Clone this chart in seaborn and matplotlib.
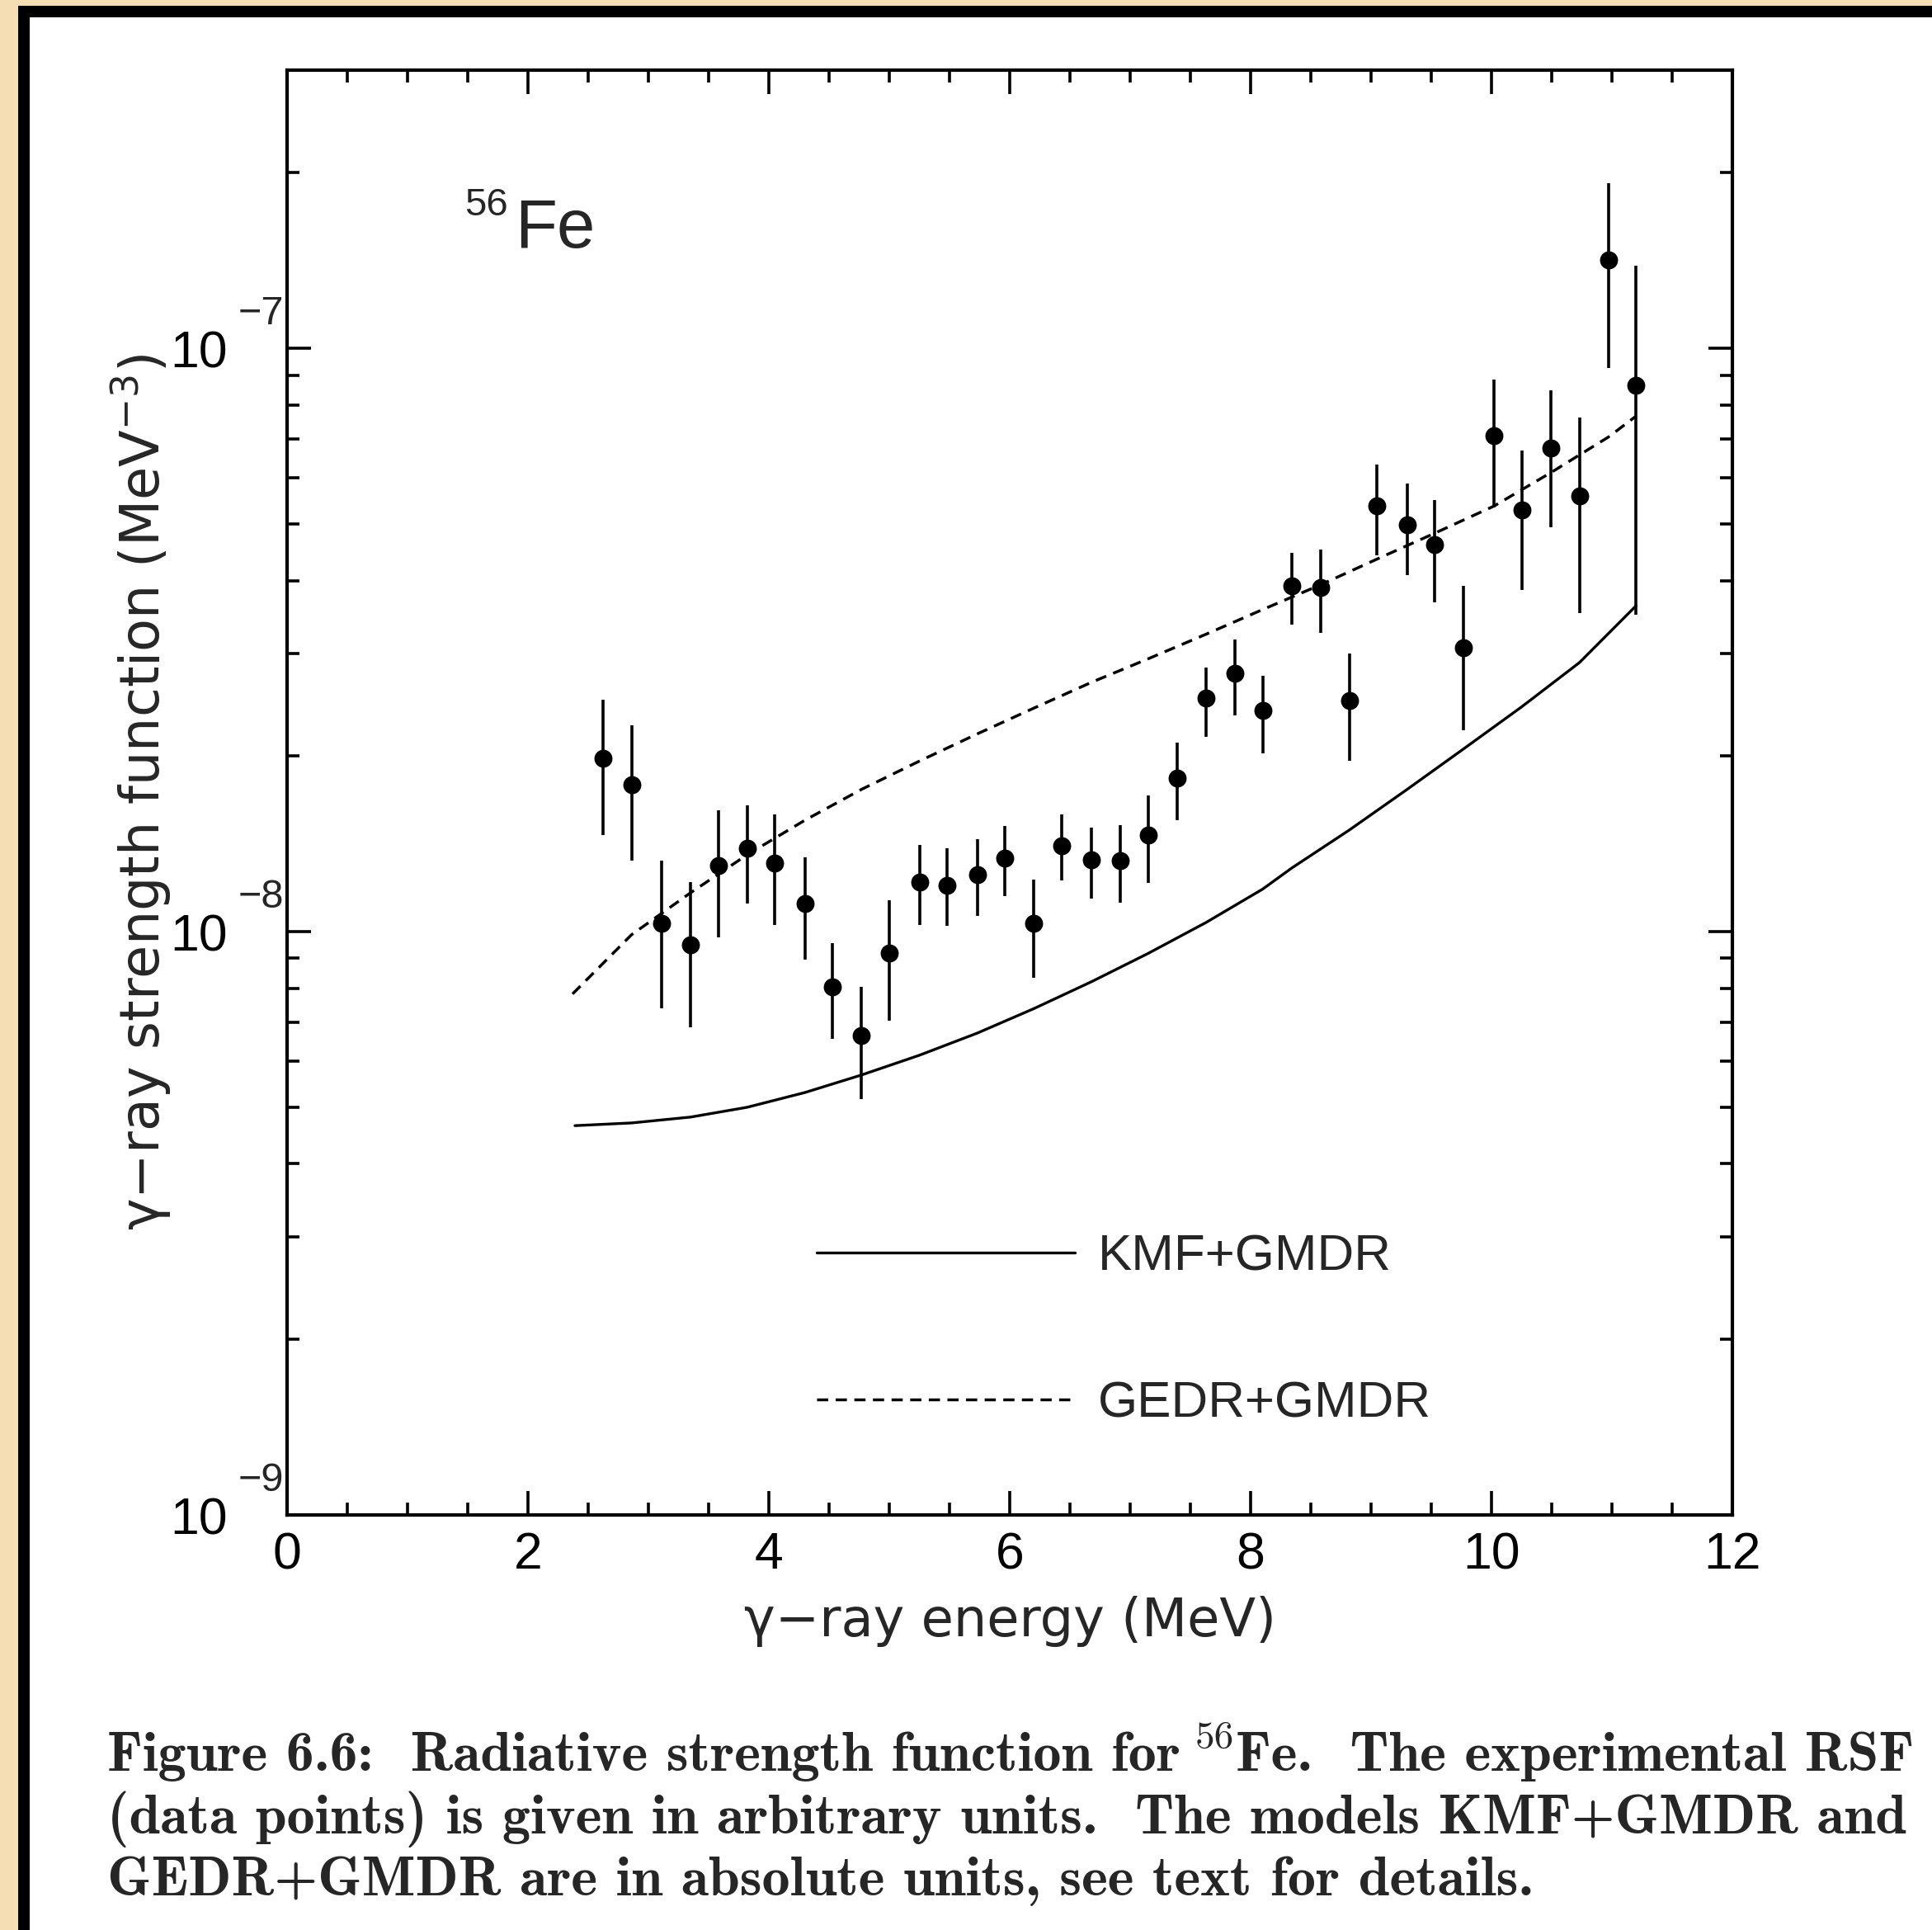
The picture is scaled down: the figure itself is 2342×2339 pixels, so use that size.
import numpy as np
import pandas as pd
import matplotlib
matplotlib.use("Agg")
import matplotlib.pyplot as plt
import seaborn as sns
from matplotlib.ticker import MultipleLocator, LogLocator, NullFormatter, FixedLocator, FixedFormatter
from matplotlib.patches import Rectangle

# ---------------- data ----------------
UNIT = 1e-9  # values below are in units of 1e-9 MeV^-3

energy = [2.62, 2.86, 3.11, 3.35, 3.58, 3.82, 4.05, 4.30, 4.53, 4.77,
          5.00, 5.25, 5.48, 5.73, 5.96, 6.20, 6.43, 6.68, 6.92, 7.15,
          7.39, 7.63, 7.87, 8.10, 8.34, 8.58, 8.82, 9.05, 9.30, 9.53,
          9.77, 10.02, 10.25, 10.49, 10.73, 10.97, 11.20]
rsf = [19.80, 17.88, 10.32, 9.50, 12.97, 13.89, 13.10, 11.16, 8.05, 6.63,
       9.18, 12.18, 12.00, 12.54, 13.36, 10.32, 14.02, 13.29, 13.23, 14.65,
       18.32, 25.13, 27.70, 23.94, 39.13, 38.94, 24.89, 53.66, 49.89, 46.15,
       30.68, 70.79, 52.89, 67.44, 55.80, 141.9, 86.44]
rsf_high = [25.01, 22.58, 13.23, 12.18, 16.15, 16.46, 15.91, 13.42, 9.55, 8.05,
            11.32, 14.09, 13.89, 14.43, 15.16, 12.30, 15.91, 15.08, 15.23, 17.12,
            21.10, 28.38, 31.73, 27.43, 44.62, 45.27, 29.94, 63.32, 58.57, 54.98,
            39.13, 88.57, 66.79, 84.78, 76.14, 191.9, 138.5]
rsf_low = [14.65, 13.23, 7.38, 6.86, 9.78, 11.16, 10.27, 8.96, 6.54, 5.17,
           7.03, 10.27, 10.22, 10.63, 11.49, 8.33, 12.24, 11.38, 11.21, 12.12,
           15.53, 21.61, 23.48, 20.20, 33.65, 32.52, 19.61, 44.19, 40.87, 36.73,
           22.14, 53.41, 38.55, 49.41, 35.15, 92.5, 34.98]

kmf_energy = [2.39, 2.86, 3.35, 3.82, 4.30, 4.77, 5.25, 5.73, 6.20, 6.68,
              7.15, 7.63, 8.10, 8.34, 8.82, 9.30, 9.77, 10.25, 10.73, 11.20]
kmf_rsf = [4.65, 4.70, 4.81, 5.00, 5.30, 5.68, 6.14, 6.70, 7.38, 8.21,
           9.18, 10.37, 11.83, 12.85, 14.94, 17.54, 20.59, 24.29, 28.93, 36.20]

gedr_energy = [2.37, 2.86, 3.35, 3.82, 4.30, 4.77, 5.25, 5.73, 6.20, 6.68,
               7.15, 7.63, 8.10, 8.58, 9.05, 9.53, 10.02, 10.49, 10.97, 11.20]
gedr_rsf = [7.82, 9.88, 11.66, 13.55, 15.53, 17.54, 19.61, 21.83, 24.17, 26.77,
            29.37, 32.36, 35.67, 39.32, 43.54, 48.23, 53.66, 61.19, 70.46, 76.53]

x_ticks = [0, 2, 4, 6, 8, 10, 12]
y_ticks = [1e-9, 1e-8, 1e-7]
y_tick_base = ["10", "10", "10"]
y_tick_exp = ["−9", "−8", "−7"]
series_labels = ["KMF+GMDR", "GEDR+GMDR"]

caption_1a = "Figure 6.6:  Radiative strength function for"
caption_1b = "56"
caption_1c = "Fe.  The experimental RSF"
caption_2 = "(data points) is given in arbitrary units.  The models KMF+GMDR and"
caption_3 = "GEDR+GMDR are in absolute units, see text for details."

# ---------------- tables ----------------
pts = pd.DataFrame({"E": energy,
                    "S": np.array(rsf) * UNIT,
                    "lo": np.array(rsf_low) * UNIT,
                    "hi": np.array(rsf_high) * UNIT})
kmf = pd.DataFrame({"E": kmf_energy, "S": np.array(kmf_rsf) * UNIT})
gedr = pd.DataFrame({"E": gedr_energy, "S": np.array(gedr_rsf) * UNIT})

# ---------------- style ----------------
sns.set_style("ticks")
plt.rcParams["font.family"] = ["Liberation Sans", "DejaVu Sans"]
plt.rcParams["mathtext.fontset"] = "custom"
plt.rcParams["mathtext.rm"] = "DejaVu Sans"
plt.rcParams["mathtext.it"] = "DejaVu Sans:italic"
plt.rcParams["mathtext.sf"] = "DejaVu Sans"
plt.rcParams["axes.linewidth"] = 1.5

W, H = 2342, 2339
DPI = 200
fig = plt.figure(figsize=(W / DPI, H / DPI), dpi=DPI)
fig.patch.set_facecolor("#F5DEB3")
fig.patch.set_linewidth(0)
# white page, then the black frame strips on the left and top
fig.add_artist(Rectangle((36 / W, -0.05), 1.1, 1.05 - 21 / H, transform=fig.transFigure,
                         facecolor="white", edgecolor="none", zorder=-3))
fig.add_artist(Rectangle((22 / W, -0.05), 14 / W, 1.05 - 7 / H, transform=fig.transFigure,
                         facecolor="black", edgecolor="none", zorder=-2))
fig.add_artist(Rectangle((22 / W, 1 - 21 / H), 1.1, 14 / H, transform=fig.transFigure,
                         facecolor="black", edgecolor="none", zorder=-2))

ax = fig.add_axes([348 / W, 1 - 1836 / H, (2100 - 348) / W, (1836 - 85) / H])
ax.set_facecolor("white")

# curves
sns.lineplot(data=kmf, x="E", y="S", ax=ax, color="black", lw=1.2,
             estimator=None, sort=False, label=series_labels[0])
sns.lineplot(data=gedr, x="E", y="S", ax=ax, color="black", lw=1.25,
             estimator=None, sort=False, label=series_labels[1])
ax.lines[1].set_dashes((3.9, 2.6))

# error bars and points
ax.vlines(pts["E"], pts["lo"], pts["hi"], colors="black", lw=1.3, zorder=3)
sns.scatterplot(data=pts, x="E", y="S", ax=ax, color="black", s=62,
                linewidth=0, zorder=4, legend=False)

ax.set_yscale("log")
ax.set_xlim(0, 12)
ax.set_ylim(1e-9, 3e-7)

ax.xaxis.set_major_locator(FixedLocator(x_ticks))
ax.xaxis.set_major_formatter(FixedFormatter([str(t) for t in x_ticks]))
ax.xaxis.set_minor_locator(MultipleLocator(0.5))
ax.yaxis.set_major_locator(FixedLocator(y_ticks))
ax.yaxis.set_major_formatter(FixedFormatter(y_tick_base))
ax.yaxis.set_minor_locator(LogLocator(base=10, subs=np.arange(2, 10)))
ax.yaxis.set_minor_formatter(NullFormatter())

ax.tick_params(which="both", direction="in", top=True, right=True,
               color="black", width=1.3, labelsize=22.5, labelcolor="black")
ax.tick_params(which="major", length=10.5)
ax.tick_params(which="minor", length=5.5)
ax.tick_params(axis="x", which="major", pad=7)
ax.tick_params(axis="y", which="major", pad=26)
for sp in ax.spines.values():
    sp.set_visible(True)
    sp.set_linewidth(1.5)
    sp.set_color("black")

# exponents of the y tick labels
for yv, ex in zip(y_ticks, y_tick_exp):
    ax.annotate(ex, xy=(0, yv), xycoords=("axes fraction", "data"),
                xytext=(-1.5, 10.5), textcoords="offset points",
                fontsize=17.5, ha="right", va="baseline", annotation_clip=False)

ax.set_xlabel("γ−ray energy (MeV)", fontsize=23, labelpad=7,
              fontfamily=["DejaVu Sans"])
ax.set_ylabel("γ−ray strength function (MeV$^{-3}$)", fontsize=23.5, labelpad=-1.5,
              fontfamily=["DejaVu Sans"])

# nucleus label
ax.text(1.893, 1.49e-7, "Fe", fontsize=30, ha="left", va="baseline")
ax.annotate("56", xy=(1.893, 1.49e-7), xytext=(-3, 14), textcoords="offset points",
            fontsize=17, ha="right", va="baseline")

# legend
ax.legend(handles=ax.lines[:2], labels=series_labels, loc="upper left",
          bbox_to_anchor=(0.3664, 0.1945), frameon=False, fontsize=22.3,
          handlelength=5.05, handletextpad=0.45, labelspacing=1.95,
          borderpad=0, borderaxespad=0)

# caption
cap_font = ["cmb10", "DejaVu Serif"]
cap_size = 24.5
t1 = fig.text(130 / W, 1 - 2146 / H, caption_1a, fontfamily=cap_font,
              fontsize=cap_size, va="baseline", ha="left")
t56 = ax.annotate(caption_1b, xy=(1, 0), xycoords=(t1, t1), xytext=(6.5, 15),
                  textcoords="offset points", fontfamily=["cmr10", "DejaVu Serif"],
                  fontsize=17, ha="left", va="baseline", annotation_clip=False)
ax.annotate(caption_1c, xy=(1, 0), xycoords=(t56, t1), xytext=(0.5, 0),
            textcoords="offset points", fontfamily=cap_font, fontsize=cap_size,
            ha="left", va="bottom", annotation_clip=False)
fig.text(130 / W, 1 - 2222 / H, caption_2, fontfamily=cap_font,
         fontsize=cap_size, va="baseline", ha="left")
fig.text(130 / W, 1 - 2297 / H, caption_3, fontfamily=cap_font,
         fontsize=cap_size, va="baseline", ha="left")

fig.savefig("out.png", dpi=DPI, facecolor=fig.get_facecolor())
